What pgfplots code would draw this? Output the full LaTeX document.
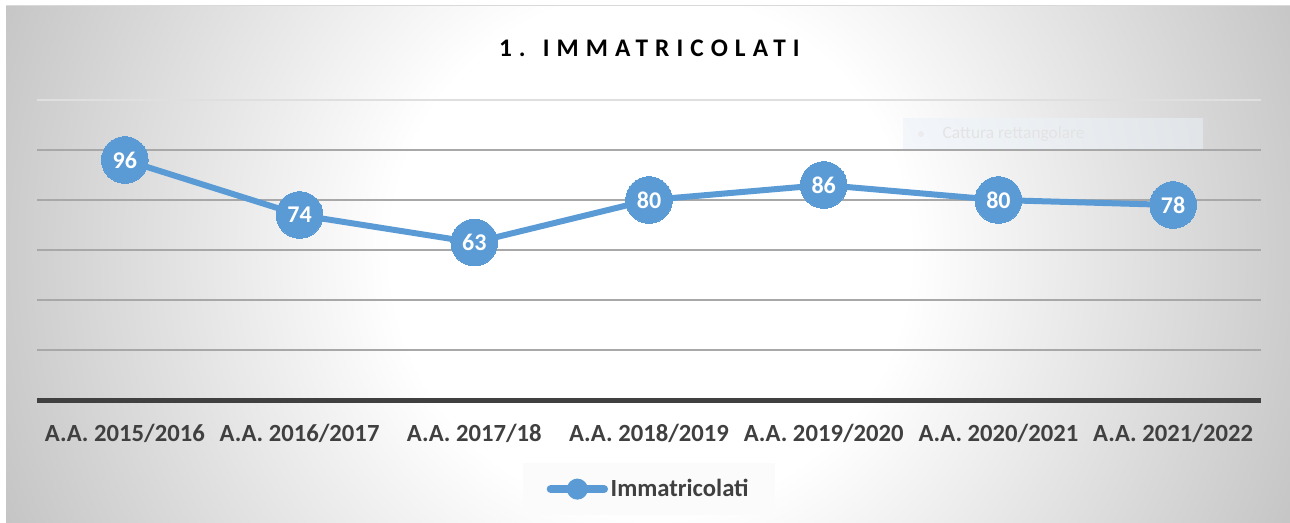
\documentclass[border=0pt]{standalone}
\usepackage{pgfplots}
\pgfplotsset{compat=1.18}
\usepackage{fontspec}
\setmainfont{Carlito}
\newfontfamily\titlefont[LetterSpace=28]{Carlito}
\definecolor{ser}{HTML}{5B9BD5}
\definecolor{lab}{HTML}{404040}
\definecolor{grd}{HTML}{A8A8A8}
\definecolor{bgedge}{HTML}{C2C2C2}
\pgfdeclareradialshading{bgshade}{\pgfpoint{0bp}{0bp}}{color(0bp)=(white); color(9bp)=(white); color(25bp)=(bgedge); color(50bp)=(bgedge)}
\begin{document}
\begin{tikzpicture}
\useasboundingbox (0pt,0pt) rectangle (967.5pt,391.5pt);
\fill[white] (0pt,0pt) rectangle (967.5pt,391.5pt);
\begin{scope}
\clip (4.5pt,0pt) rectangle (967.5pt,387pt);
\shade[shading=bgshade] (487.5pt,202.5pt) circle (540pt);
\end{scope}
\draw[gray!30, line width=0.75pt] (4.5pt,387pt) -- (967.5pt,387pt);
% faint screenshot overlay
\fill[ser!12, opacity=0.5] (677.25pt,279pt) rectangle (902.25pt,303pt);
\fill[gray!15] (690.75pt,291pt) circle (2.25pt);
\node[text=gray!22, font=\fontsize{13}{15}\selectfont, anchor=west] at (703.5pt,291pt) {Cattura rettangolare};
% title
\node[font=\fontsize{19}{22}\selectfont\titlefont\bfseries, text=black] at (487pt,355.5pt) {1. IMMATRICOLATI};
\begin{axis}[
  at={(28.125pt,91.5pt)}, anchor=south west, scale only axis,
  width=917.25pt, height=225pt,
  xmin=-0.5, xmax=6.5, ymin=0, ymax=120,
  clip=false,
  axis line style={draw=none},
  major tick length=0pt,
  ytick={20,40,60,80,100}, yticklabels={},
  extra y ticks={120}, extra y tick labels={},
  extra y tick style={grid style={gray!25, line width=0.9pt}},
  ymajorgrids,
  grid style={grd, line width=0.9pt},
  xtick={0,1,2,3,4,5,6},
  xticklabels={A.A. 2015/2016, A.A. 2016/2017, A.A. 2017/18, A.A. 2018/2019, A.A. 2019/2020, A.A. 2020/2021, A.A. 2021/2022},
  xticklabel style={font=\fontsize{18.5}{20}\selectfont\bfseries, text=lab, yshift=-14.5pt},
  legend style={at={(0.5,-0.297)}, anchor=center, fill=white!97!gray, draw=none,
    font=\fontsize{18.5}{20}\selectfont\bfseries, text=lab, inner xsep=18pt, inner ysep=10pt},
  legend image code/.code={\draw[ser, line width=6pt, line cap=round] (0pt,0pt) -- (40pt,0pt); \fill[ser] (20pt,0pt) circle (5.6pt);},
]
\draw[lab, line width=3.75pt] (axis cs:-0.5,0) -- (axis cs:6.5,0);
\addplot[ser, line width=4.5pt, line join=round, mark=*, mark size=17.5pt,
  mark options={solid, fill=ser, draw=ser, line width=0pt},
  nodes near coords, point meta=explicit symbolic,
  every node near coord/.style={anchor=center, text=white, font=\fontsize{18}{20}\selectfont\bfseries}]
  coordinates {(0,96)[96] (1,74)[74] (2,63)[63] (3,80)[80] (4,86)[86] (5,80)[80] (6,78)[78]};
\addlegendentry{Immatricolati}
\end{axis}
\end{tikzpicture}
\end{document}
